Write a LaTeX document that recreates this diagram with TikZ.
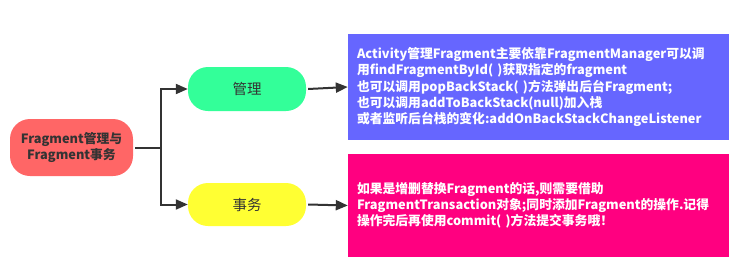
\documentclass[tikz,border=0pt]{standalone}
\usepackage{fontspec}
\setmainfont{Noto Sans CJK SC}
\usetikzlibrary{arrows.meta}
\definecolor{rootc}{HTML}{FF6666}
\definecolor{greenc}{HTML}{33FF99}
\definecolor{yellowc}{HTML}{FFFF33}
\definecolor{bluec}{HTML}{6666FF}
\definecolor{pinkc}{HTML}{FF0080}
\definecolor{linec}{HTML}{333333}
\tikzset{
  pill/.style={draw=none, rounded corners=20pt, align=center, text=linec},
  infobox/.style={draw=none, rectangle, text=white, align=left, inner xsep=9pt,
    text width=363pt, minimum width=381pt, font=\bfseries\fontsize{12.8}{16.2}\selectfont},
  conn/.style={draw=linec, line width=2pt, -{Triangle[length=12pt,width=10pt]}},
  plain/.style={draw=linec, line width=2pt}
}
\begin{document}
\begin{tikzpicture}[x=1pt,y=-1pt]
\useasboundingbox (0,0) rectangle (754,276);
\node[pill, fill=rootc, minimum width=123pt, minimum height=57pt,
  font=\bfseries\fontsize{12.8}{16}\selectfont] (root) at (71.5,147.5) {Fragment管理与\\Fragment事务};
\node[pill, fill=greenc, minimum width=118pt, minimum height=44pt,
  font=\fontsize{14.5}{16}\selectfont] (m1) at (247,89) {管理};
\node[pill, fill=yellowc, minimum width=118pt, minimum height=43pt,
  font=\fontsize{14.5}{16}\selectfont] (m2) at (247,204.5) {事务};
\node[infobox, fill=bluec, minimum height=106pt] (b1) at (538.5,87)
  {Activity管理Fragment主要依靠FragmentManager可以调\\
   用findFragmentById( )获取指定的fragment\\
   也可以调用popBackStack( )方法弹出后台Fragment;\\
   也可以调用addToBackStack(null)加入栈\\
   或者监听后台栈的变化:addOnBackStackChangeListener};
\node[infobox, fill=pinkc, minimum height=103pt] (b2) at (538.5,205.5)
  {如果是增删替换Fragment的话,则需要借助\\
   FragmentTransaction对象;同时添加Fragment的操作.记得\\
   操作完后再使用commit( )方法提交事务哦！};
\coordinate (j) at (161,147.5);
\draw[plain] (root.east) ++(2,0) -- (j);
\draw[conn] (j) |- (m1.west);
\draw[conn] (j) |- (m2.west);
\draw[conn] (m1.east) ++(2,0) -- (b1.west);
\draw[conn] (m2.east) ++(2,0) -- (b2.west);
\end{tikzpicture}
\end{document}
